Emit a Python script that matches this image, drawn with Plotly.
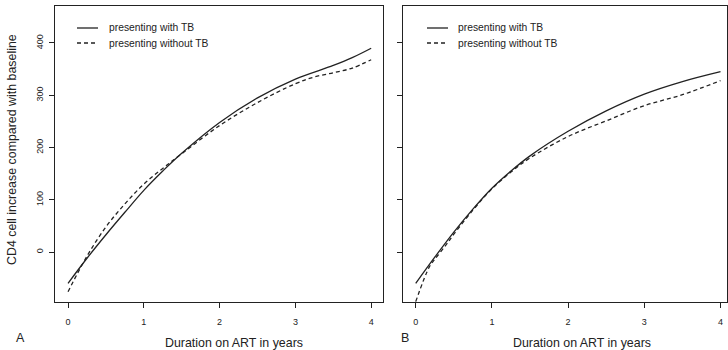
import plotly.graph_objects as go

# ---- data ----
xa_with = [0, 0.25, 0.5, 0.75, 1.0, 1.25, 1.5, 2.0, 2.5, 3.0, 3.5, 3.75, 4.0]
ya_with = [-60, -12, 33, 76, 118, 155, 189, 248, 295, 331, 357, 372, 390]
xa_without = [0, 0.25, 0.5, 0.75, 1.0, 1.25, 1.5, 2.0, 2.5, 3.0, 3.25, 3.5, 3.75, 4.0]
ya_without = [-76, -8, 48, 92, 130, 160, 188, 242, 286, 322, 335, 343, 352, 368]

xb_with = [0, 0.25, 0.5, 0.75, 1.0, 1.25, 1.5, 2.0, 2.5, 3.0, 3.5, 4.0]
yb_with = [-60, -10, 38, 82, 122, 155, 184, 231, 270, 302, 326, 345]
xb_without = [0, 0.18, 0.25, 0.4, 0.5, 0.75, 1.0, 1.25, 1.5, 2.0, 2.5, 3.0, 3.5, 4.0]
yb_without = [-95, -28, -14, 14, 34, 80, 121, 153, 180, 221, 251, 280, 301, 328]

x_ticks = [0, 1, 2, 3, 4]
y_ticks = [0, 100, 200, 300, 400]
series_names = ["presenting with TB", "presenting without TB"]
panel_labels = ["A", "B"]
x_title = "Duration on ART in years"
y_title = "CD4 cell increase compared with baseline"

W, H = 728, 350
FONT = "Liberation Sans, Arial, sans-serif"
INK = "#222222"

def px_x(p):
    return p / W

def px_y(p):
    return 1 - p / H

fig = go.Figure()

solid = dict(color=INK, width=1.3)
dashed = dict(color=INK, width=1.3, dash="4px,3px")

fig.add_trace(go.Scatter(x=xa_with, y=ya_with, mode="lines", line=dict(**solid, shape="spline"),
                         name=series_names[0], xaxis="x", yaxis="y"))
fig.add_trace(go.Scatter(x=xa_without, y=ya_without, mode="lines", line=dict(**dashed, shape="spline"),
                         name=series_names[1], xaxis="x", yaxis="y"))
fig.add_trace(go.Scatter(x=xb_with, y=yb_with, mode="lines", line=dict(**solid, shape="spline"),
                         name=series_names[0], xaxis="x2", yaxis="y2"))
fig.add_trace(go.Scatter(x=xb_without, y=yb_without, mode="lines", line=dict(**dashed, shape="spline"),
                         name=series_names[1], xaxis="x2", yaxis="y2"))

yrange = [-95.7, 470.8]
axis_common = dict(showgrid=False, zeroline=False, showline=True, linecolor=INK, linewidth=1,
                   mirror=True, ticks="outside", ticklen=5, tickwidth=1, tickcolor=INK,
                   automargin=False,
                   tickfont=dict(family=FONT, size=9, color=INK))

fig.update_layout(
    template="none",
    width=W, height=H,
    margin=dict(l=0, r=0, t=0, b=0, pad=0),
    paper_bgcolor="white", plot_bgcolor="white",
    font=dict(family=FONT, color=INK),
    showlegend=False,
    xaxis=dict(**axis_common, domain=[px_x(55), px_x(383)], range=[-0.172, 4.156],
               tickvals=x_ticks, ticktext=[str(v) for v in x_ticks], anchor="y",
               ticklabelstandoff=6),
    yaxis=dict(**axis_common, domain=[px_y(302), px_y(6)], range=yrange,
               tickvals=y_ticks, ticktext=[str(v) for v in y_ticks], tickangle=-90, anchor="x",
               ticklabelstandoff=2),
    xaxis2=dict(**axis_common, domain=[px_x(403), px_x(727)], range=[-0.167, 4.085],
                tickvals=x_ticks, ticktext=[str(v) for v in x_ticks], anchor="y2",
                ticklabelstandoff=6),
    yaxis2=dict(**axis_common, domain=[px_y(302), px_y(6)], range=yrange,
                tickvals=y_ticks, showticklabels=False, anchor="x2"),
)

TITLE_SIZE = 12.4
ann = dict(xref="paper", yref="paper", showarrow=False, xanchor="center", yanchor="middle")
fig.add_annotation(text=x_title, x=px_x(234), y=px_y(343), font=dict(family=FONT, size=TITLE_SIZE, color=INK), **ann)
fig.add_annotation(text=x_title, x=px_x(582), y=px_y(343), font=dict(family=FONT, size=TITLE_SIZE, color=INK), **ann)
fig.add_annotation(text=y_title, x=px_x(12), y=px_y(150), textangle=-90,
                   font=dict(family=FONT, size=TITLE_SIZE, color=INK), **ann)
fig.add_annotation(text=panel_labels[0], x=px_x(20), y=px_y(338), font=dict(family=FONT, size=12.5, color=INK), **ann)
fig.add_annotation(text=panel_labels[1], x=px_x(405), y=px_y(338), font=dict(family=FONT, size=12.5, color=INK), **ann)

# legend keys (one per panel), styled like the traces
legend_rows = [(series_names[0], None, 28), (series_names[1], "4px,3px", 43)]
for key_x0, key_x1, text_x in [(77, 98, 107), (427, 448, 456)]:
    for name, dash, ry in legend_rows:
        fig.add_shape(type="line", xref="paper", yref="paper",
                      x0=px_x(key_x0), x1=px_x(key_x1), y0=px_y(ry), y1=px_y(ry),
                      line=dict(color=INK, width=1.3, dash=dash or "solid"))
        fig.add_annotation(text=name, xref="paper", yref="paper", showarrow=False,
                           x=px_x(text_x), y=px_y(ry), xanchor="left", yanchor="middle",
                           font=dict(family=FONT, size=10.3, color=INK))

# remove the default 8px page margin so the figure fills the window exactly
fig.write_html("out.html", config={"displayModeBar": False},
               post_script="document.body.style.margin='0';document.body.style.overflow='hidden';")
